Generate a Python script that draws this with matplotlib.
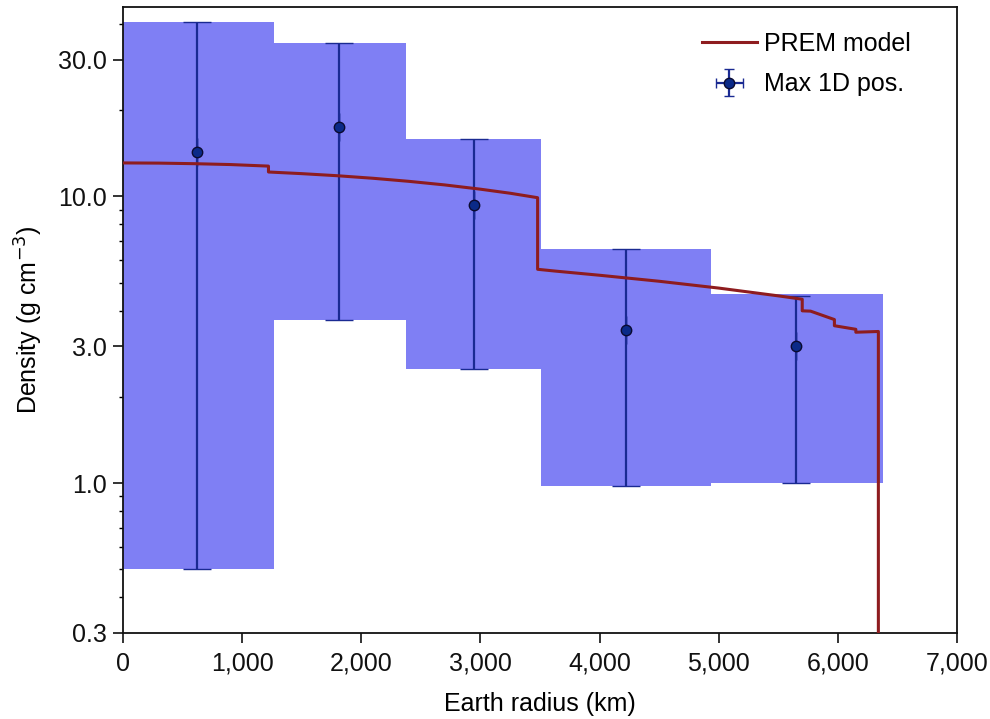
import matplotlib
matplotlib.use("Agg")
import matplotlib.pyplot as plt
from matplotlib.ticker import FixedLocator, FixedFormatter, LogLocator, NullFormatter
from matplotlib.legend_handler import HandlerErrorbar

plt.rcParams['font.family'] = ['Liberation Sans', 'DejaVu Sans']

# Bins (km) and inferred density ranges (g cm^-3)
bin_left = [0, 1270, 2375, 3505, 4937]
bin_right = [1270, 2375, 3505, 4937, 6375]
box_low = [0.50, 3.70, 2.50, 0.98, 1.00]
box_high = [40.6, 34.4, 15.8, 6.54, 4.58]

# Max 1D posterior points
pt_radius = [621, 1814, 2947, 4224, 5651]
pt_density = [14.3, 17.4, 9.3, 3.43, 3.00]
err_low = [0.50, 3.70, 2.50, 0.98, 1.00]
err_high = [40.6, 34.4, 15.8, 6.54, 4.50]

# PREM model (radius km, density g cm^-3)
prem_r = [0, 300, 600, 900, 1221, 1221, 1500, 1800, 2100, 2400, 2700, 3000,
          3250, 3480, 3480, 3630, 4000, 4500, 5000, 5500, 5701, 5701, 5771,
          5971, 5971, 6151, 6151, 6340, 6340]
prem_rho = [13.09, 13.07, 13.01, 12.92, 12.76, 12.17, 12.01, 11.81, 11.57,
            11.29, 10.97, 10.60, 10.26, 9.90, 5.57, 5.49, 5.31, 5.06, 4.79,
            4.50, 4.38, 3.99, 3.98, 3.72, 3.54, 3.44, 3.36, 3.38, 0.01]

xticks = [0, 1000, 2000, 3000, 4000, 5000, 6000, 7000]
xtick_labels = ['0', '1,000', '2,000', '3,000', '4,000', '5,000', '6,000', '7,000']
yticks = [0.3, 1.0, 3.0, 10.0, 30.0]
ytick_labels = ['0.3', '1.0', '3.0', '10.0', '30.0']

fig = plt.figure(figsize=(9.9, 7.19), dpi=100)
ax = fig.add_axes([123/990, 1-633/719, (957-123)/990, (633-7)/719])

box_color = '#7f7ff4'
err_color = '#1a2a92'
prem_color = '#8e1c1f'

widths = [r - l for l, r in zip(bin_left, bin_right)]
heights = [h - l for l, h in zip(box_low, box_high)]
ax.bar(bin_left, heights, width=widths, bottom=box_low, align='edge',
       color=box_color, edgecolor='none', linewidth=0, zorder=1)

yerr = [[d - l for d, l in zip(pt_density, err_low)],
        [h - d for d, h in zip(pt_density, err_high)]]
eb = ax.errorbar(pt_radius, pt_density, yerr=yerr, xerr=[0]*len(pt_radius),
                 fmt='o', color=err_color, ecolor=err_color, elinewidth=1.6,
                 capsize=10, capthick=1.4, markersize=7.5,
                 markerfacecolor='#0b2a88', markeredgecolor='#0a0a30',
                 markeredgewidth=1.0, zorder=2, label='Max 1D pos.')

line, = ax.plot(prem_r, prem_rho, color=prem_color, lw=2.2, zorder=3,
                label='PREM model')

ax.set_yscale('log')
ax.set_xlim(0, 7000)
ax.set_ylim(0.3, 45.8)

ax.xaxis.set_major_locator(FixedLocator(xticks))
ax.xaxis.set_major_formatter(FixedFormatter(xtick_labels))
ax.yaxis.set_major_locator(FixedLocator(yticks))
ax.yaxis.set_major_formatter(FixedFormatter(ytick_labels))
ax.yaxis.set_minor_locator(LogLocator(base=10, subs=range(2, 10)))
ax.yaxis.set_minor_formatter(NullFormatter())

ax.tick_params(axis='both', which='major', direction='out', length=7.5,
               width=1.2, labelsize=18, pad=4, colors='#111111')
ax.tick_params(axis='x', which='major', pad=6)
ax.tick_params(axis='y', which='minor', direction='out', length=3,
               width=1.0)
ax.tick_params(top=False, right=False, which='both')
for s in ax.spines.values():
    s.set_linewidth(1.3)
    s.set_color('#111111')

ax.set_xlabel('Earth radius (km)', fontsize=18, labelpad=12)
ax.set_ylabel('Density (g cm$^{-3}$)', fontsize=18)
ax.yaxis.set_label_coords(-0.093, 0.5)


def small_caps(legend_handle, orig_handle):
    legend_handle.update_from(orig_handle)
    if hasattr(orig_handle, 'get_marker') and orig_handle.get_marker() in ('|', '_'):
        legend_handle.set_markersize(7)


leg = ax.legend(handles=[line, eb], labels=['PREM model', 'Max 1D pos.'],
                loc='upper left', bbox_to_anchor=(0.682, 0.976),
                borderaxespad=0, frameon=False, fontsize=18,
                handlelength=2.2, handletextpad=0.3, labelspacing=0.65,
                handler_map={type(eb): HandlerErrorbar(xerr_size=0.55,
                                                       update_func=small_caps)})

fig.savefig('out.png', dpi=100)
